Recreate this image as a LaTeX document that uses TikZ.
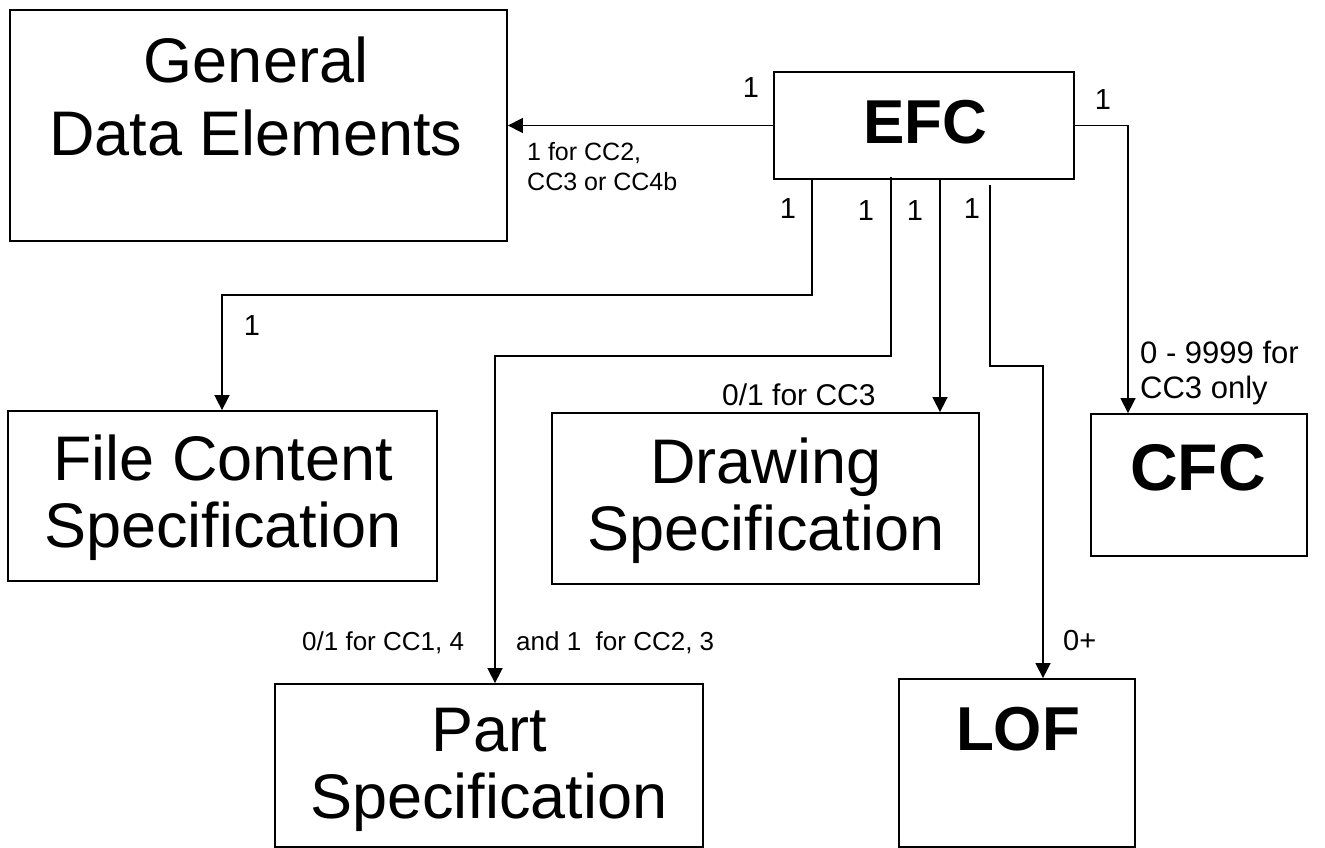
\documentclass[tikz,border=0pt]{standalone}
\usepackage{fontspec}
\setmainfont{Liberation Sans}
\usetikzlibrary{arrows.meta}

\begin{document}
\begin{tikzpicture}[
    x=1pt, y=-1pt,
    box/.style={rectangle, draw=black, line width=1.8pt, inner sep=0pt},
    big/.style={font=\fontsize{63}{67}\selectfont, align=center,
        anchor=base, inner sep=0pt},
    bigb/.style={font=\fontsize{62}{67}\selectfont\bfseries,
        anchor=base, inner sep=0pt},
    num/.style={font=\fontsize{29}{34}\selectfont, inner sep=0pt},
    note/.style={font=\fontsize{26}{31}\selectfont, align=left,
        anchor=base west, inner sep=0pt},
    link/.style={draw=black, line width=1.6pt},
    arr/.style={-{Triangle[length=15pt,width=15pt]}, line width=1.6pt},
]
\useasboundingbox (0,0) rectangle (1325,848);

% ====== BOXES ======
\node[box, minimum width=497, minimum height=231] (gde)  at (258.5,125.5) {};
\node[box, minimum width=300, minimum height=107] (efc)  at (924,125.5) {};
\node[box, minimum width=429, minimum height=170] (fcs)  at (222.5,496) {};
\node[box, minimum width=427, minimum height=171] (dws)  at (765.5,498.5) {};
\node[box, minimum width=216, minimum height=142] (cfc)  at (1199,485) {};
\node[box, minimum width=428, minimum height=163] (part) at (489,765.5) {};
\node[box, minimum width=236, minimum height=168] (lof)  at (1017,763) {};

% box texts (base = last line)
\node[big] (gde-t)  at (256,155) {General\\[6pt]Data Elements};
\node[bigb] (efc-t) at (925,143) {EFC};
\node[big] (fcs-t)  at (223,547) {File Content\\Specification};
\node[big] (dws-t)  at (766,550) {Drawing\\Specification};
\node[bigb, font=\fontsize{66}{70}\selectfont\bfseries] (cfc-t)
    at (1198,490) {CFC};
\node[big] (part-t) at (489,818) {Part\\Specification};
\node[bigb] (lof-t) at (1018,750) {LOF};

% ====== CONNECTORS ======
\coordinate (t1) at (812,179);
\coordinate (t2) at (891,177);
\coordinate (t3) at (940,179);
\coordinate (t4) at (990,185);
\coordinate (k1) at (222,295);
\coordinate (k2) at (495,356);
\coordinate (k4) at (1043,366);

\draw[arr] (efc.west) -- (efc.west -| gde.east);
\draw[arr] (t1) |- (k1) -- (k1 |- fcs.north);
\draw[arr] (t2) |- (k2) -- (k2 |- part.north);
\draw[arr] (t3) -- (t3 |- dws.north);
\draw[arr] (t4) |- (k4) -- (k4 |- lof.north);
\draw[arr] (efc.east) -| ([xshift=-71]cfc.north);

% ====== MULTIPLICITIES ======
\node[num] (n-gde)  at (751,88)  {1};
\node[num] (n-cfc)  at (1103,100) {1};
\node[num] (n-fcs)  at (788,209) {1};
\node[num] (n-part) at (866,211) {1};
\node[num] (n-dws)  at (915,211) {1};
\node[num] (n-lof)  at (972,209) {1};
\node[num] (n-fcs2) at (252,326) {1};

\node[note, font=\fontsize{25}{30}\selectfont] (l-gde) at (527,190)
    {1 for CC2,\\CC3 or CC4b};
\node[note, font=\fontsize{30}{34}\selectfont] (l-dws) at (722,405)
    {0/1 for CC3};
\node[note] (l-part1) at (302,650) {0/1 for CC1, 4};
\node[note] (l-part2) at (516,650) {and 1\ \ for CC2, 3};
\node[note, font=\fontsize{31}{35}\selectfont] (l-cfc) at (1140,398)
    {0 - 9999 for\\CC3 only};
\node[note, font=\fontsize{29}{34}\selectfont] (l-lof) at (1063,650) {0+};

\end{tikzpicture}
\end{document}
